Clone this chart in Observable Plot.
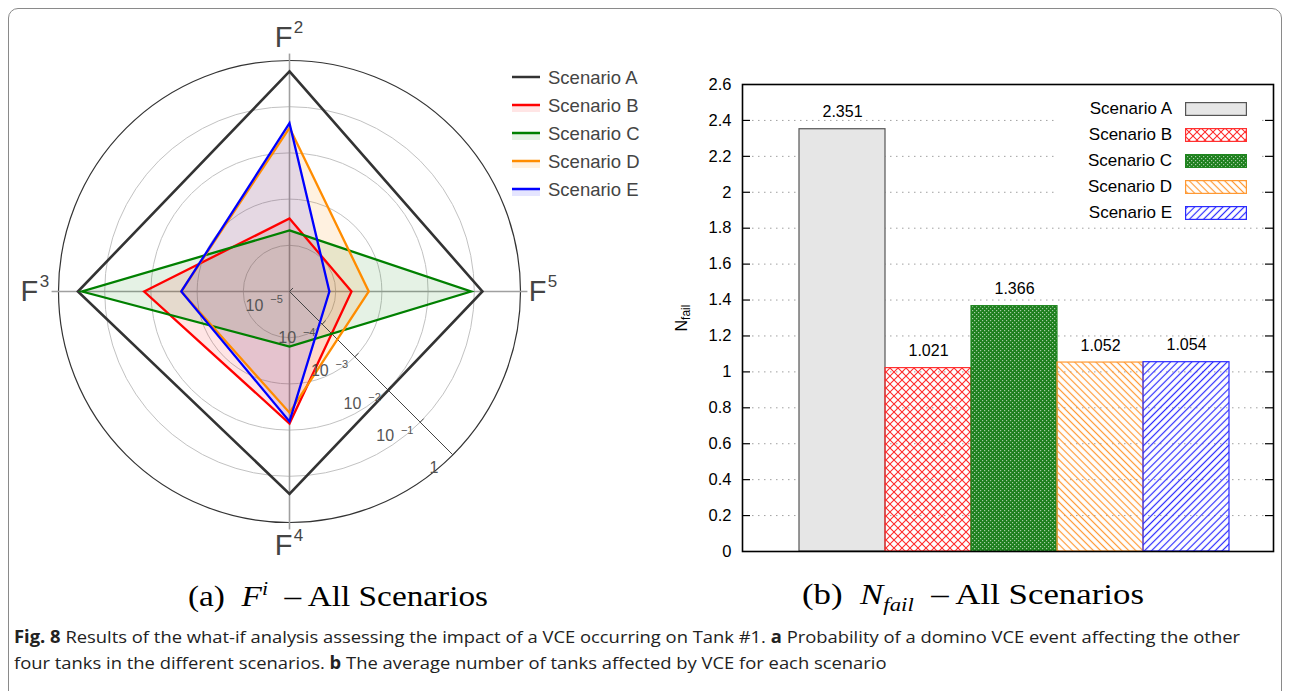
<!DOCTYPE html>
<html><head><meta charset="utf-8">
<script src="https://cdn.jsdelivr.net/npm/d3@7"></script>
<script src="https://cdn.jsdelivr.net/npm/@observablehq/plot@0.6"></script>
<style>
html,body{margin:0;padding:0;background:#fff}
body{width:1289px;height:691px;overflow:hidden;position:relative;font-family:"Liberation Sans",Arial,sans-serif}
#border{position:absolute;left:8px;top:8px;width:1274px;height:760px;border:1.5px solid #8a8a8a;border-radius:10px;box-sizing:border-box}
.abs{position:absolute}
#radar{left:0;top:0}
#bars{left:670px;top:60px}
#rleg{left:512px;top:64px;font-size:18.5px;color:#444}
#rleg .row{height:28px;display:flex;align-items:center;white-space:nowrap}
#rleg svg{margin-right:8px}
#bleg{left:1055px;top:96px;width:207px;height:131px;background:#fff;font-size:17px;color:#000}
#bleg .row{position:absolute;left:0;height:26px;width:207px}
#bleg .lab{position:absolute;left:0;width:117px;text-align:right;top:3px;white-space:nowrap}
#bleg svg{position:absolute;left:130px;top:6px}
#nlab{left:683px;top:318px;font-size:16px;transform:translate(-50%,-50%) rotate(-90deg);white-space:nowrap;color:#000}
#nlab sub{font-size:12px;vertical-align:-3px}
.sub{font-family:"Liberation Serif","DejaVu Serif",serif;font-size:29px;color:#000;white-space:nowrap;text-align:center;width:500px;transform-origin:50% 50%}
#capa{left:88px;top:578px}
#capb{left:723px;top:578px}
.sub i{font-style:italic}
#caption{left:14px;top:624px;font-family:"Open Sans","Noto Sans",sans-serif;font-size:17px;line-height:26px;color:#222;white-space:nowrap;transform-origin:0 0}
</style></head><body>
<svg width="0" height="0" style="position:absolute">
<defs>
<pattern id="hatchB" patternUnits="userSpaceOnUse" width="8" height="8"><path d="M0,0L8,8M8,0L0,8" stroke="#ff2a2a" stroke-width="1.1" fill="none"/></pattern>
<pattern id="hatchC" patternUnits="userSpaceOnUse" width="4" height="4"><rect width="4" height="4" fill="#1d7f1d"/><rect x="0" y="0" width="1.2" height="1.2" fill="#fff" opacity="0.6"/><rect x="2" y="2" width="1.2" height="1.2" fill="#fff" opacity="0.6"/></pattern>
<pattern id="hatchD" patternUnits="userSpaceOnUse" width="5" height="5" patternTransform="rotate(-45)"><line x1="2.5" y1="0" x2="2.5" y2="5" stroke="#ff9933" stroke-width="1.2"/></pattern>
<pattern id="hatchE" patternUnits="userSpaceOnUse" width="5" height="5" patternTransform="rotate(45)"><line x1="2.5" y1="0" x2="2.5" y2="5" stroke="#2b2bff" stroke-width="1.2"/></pattern>
</defs></svg>
<div id="border"></div>
<div id="radar" class="abs"></div>
<div id="rleg" class="abs"></div>
<div id="bars" class="abs"></div>
<div id="bleg" class="abs"></div>
<div id="nlab" class="abs">N<sub>fail</sub></div>
<div id="capa" class="abs sub"><span>(a)&nbsp; <i>F</i><sup style="font-size:19px"><i>i</i></sup> &nbsp;– All Scenarios</span></div>
<div id="capb" class="abs sub"><span>(b)&nbsp; <i>N</i><sub style="font-size:19px"><i>fail</i></sub> &nbsp;– All Scenarios</span></div>
<div id="caption" class="abs"><b>Fig. 8</b> Results of the what-if analysis assessing the impact of a VCE occurring on Tank #1. <b>a</b> Probability of a domino VCE event affecting the other<br>four tanks in the different scenarios. <b>b</b> The average number of tanks affected by VCE for each scenario</div>
<script>
// ---------- data ----------
const scenarios = ["Scenario A", "Scenario B", "Scenario C", "Scenario D", "Scenario E"];
const lineColors = ["#333333", "#ff0000", "#008000", "#ff8c00", "#0000ff"];
const areaOpacity = [0, 0.1, 0.1, 0.12, 0.1];
// radar axes, clockwise from the top: F2, F5, F4, F3
const fAxes = ["2", "5", "4", "3"];
const fAngles = [0, 90, 180, 270];
const probA = [0.58, 0.15, 0.24, 0.38];
const probB = [3.8e-4, 2.2e-4, 7.2e-3, 1.4e-2];
const probC = [2.1e-4, 8.5e-2, 1.55e-4, 0.31];
const probD = [3.5e-2, 5.2e-4, 4.2e-3, 2.2e-3];
const probE = [4.4e-2, 7.3e-5, 6.5e-3, 2.2e-3];
const probs = [probA, probB, probC, probD, probE];
const ringValues = [1e-5, 1e-4, 1e-3, 1e-2, 1e-1, 1];
const ringExponents = ["−5", "−4", "−3", "−2", "−1"];
// bar chart
const nFail = [2.351, 1.021, 1.366, 1.052, 1.054];
const nFailTicks = [0, 0.2, 0.4, 0.6, 0.8, 1, 1.2, 1.4, 1.6, 1.8, 2, 2.2, 2.4, 2.6];
const nFailLabels = ["0", "0.2", "0.4", "0.6", "0.8", "1", "1.2", "1.4", "1.6", "1.8", "2", "2.2", "2.4", "2.6"];
const barFills = ["#e6e6e6", "url(#hatchB)", "url(#hatchC)", "url(#hatchD)", "url(#hatchE)"];
const barStrokes = ["#555555", "#ff3030", "#1f861f", "#ff9933", "#2b2bff"];

// ---------- radar ----------
const R = 231, cx = 289, cy = 291, RW = 660, RH = 570;
const rad = d3.scaleLog().domain([1e-5, 1]).range([0, 1]);
const toRad = a => a * Math.PI / 180;
const polar = (r, a) => ({x: r * Math.sin(toRad(a)), y: r * Math.cos(toRad(a))});
const diag = v => polar(rad(v), 135);

const marks = [];
ringValues.forEach((v, i) => {
  const last = i === ringValues.length - 1;
  if (i === 0) return;
  marks.push(Plot.dot([v], {x: () => 0, y: () => 0, r: rad(v) * R, fill: "none",
    stroke: last ? "#333" : "#c2c2c2", strokeWidth: last ? 1.2 : 1}));
});
marks.push(Plot.link(fAngles, {x1: () => 0, y1: () => 0,
  x2: a => polar(1.03, a).x, y2: a => polar(1.03, a).y, stroke: "#a0a0a0", strokeWidth: 1.6}));
const polys = scenarios.map((s, k) => fAngles.map((a, i) => ({s, ...polar(rad(probs[k][i]), a)})));
polys.forEach((p, k) => {
  if (areaOpacity[k] > 0) marks.push(Plot.line(p, {x: "x", y: "y", curve: "linear-closed",
    stroke: "none", fill: lineColors[k], fillOpacity: areaOpacity[k]}));
});
marks.push(Plot.link([1], {x1: () => 0, y1: () => 0, x2: v => diag(v).x, y2: v => diag(v).y,
  stroke: "#444", strokeWidth: 1}));
const tk = 5 / R * Math.SQRT1_2;
marks.push(Plot.link(ringValues, {x1: v => diag(v).x, y1: v => diag(v).y,
  x2: v => diag(v).x + tk, y2: v => diag(v).y + tk, stroke: "#444", strokeWidth: 1}));
polys.forEach((p, k) => {
  marks.push(Plot.line(p, {x: "x", y: "y", curve: "linear-closed", stroke: lineColors[k],
    strokeWidth: k === 0 ? 2.6 : 2.3, strokeLinejoin: "miter", strokeMiterlimit: 10}));
});
const ringLab = ringValues.slice(0, 5);
marks.push(Plot.text(ringLab, {x: v => diag(v).x, y: v => diag(v).y, text: () => "10",
  dx: -35, dy: 14, fontSize: 16, fill: "#555"}));
marks.push(Plot.text(ringLab, {x: v => diag(v).x, y: v => diag(v).y, text: (v, i) => ringExponents[i],
  dx: -13, dy: 8, fontSize: 11, fill: "#555"}));
marks.push(Plot.text([1], {x: v => diag(v).x, y: v => diag(v).y, text: () => "1",
  dx: -19, dy: 13, fontSize: 16, fill: "#555"}));
marks.push(Plot.text(fAxes, {x: (d, i) => polar(1.1, fAngles[i]).x, y: (d, i) => polar(1.1, fAngles[i]).y,
  text: () => "F", dx: -6, fontSize: 29, fill: "#444"}));
marks.push(Plot.text(fAxes, {x: (d, i) => polar(1.1, fAngles[i]).x, y: (d, i) => polar(1.1, fAngles[i]).y,
  text: d => d, dx: 9, dy: -10, fontSize: 17, fill: "#444"}));

const radar = Plot.plot({
  width: RW, height: RH, margin: 0,
  style: {fontFamily: "Liberation Sans, Arial, sans-serif", background: "transparent", overflow: "visible"},
  x: {domain: [-cx / R, (RW - cx) / R], axis: null},
  y: {domain: [-(RH - cy) / R, cy / R], axis: null},
  marks
});
document.getElementById("radar").append(radar);

const rleg = document.getElementById("rleg");
scenarios.forEach((s, k) => {
  const row = document.createElement("div");
  row.className = "row";
  row.innerHTML = `<svg width="28" height="14"><rect x="0" y="7" width="28" height="6" fill="${lineColors[k]}" fill-opacity="${areaOpacity[k]}"/><line x1="0" x2="28" y1="6" y2="6" stroke="${lineColors[k]}" stroke-width="2.5"/></svg><span>${s}</span>`;
  rleg.append(row);
});

// ---------- bar chart ----------
const BW = 619, BH = 510;
const mL = 72, mR = 16, mT = 24, mB = 19;
const innerW = BW - mL - mR;
const bars = scenarios.map((s, i) => ({s, v: nFail[i]}));
const inner = nFailTicks.slice(1, -1);
const barMarks = [
  Plot.ruleY(inner, {stroke: "#a0a0a0", strokeWidth: 1, strokeDasharray: "1.5,4.5", insetLeft: 10, insetRight: 5}),
  ...bars.map((d, i) => Plot.barY([d], {x: "s", y: "v", fill: barFills[i], stroke: barStrokes[i], strokeWidth: 1.2})),
  Plot.ruleY(inner, {stroke: "#000", strokeWidth: 1.2, insetRight: innerW - 8}),
  Plot.ruleY(inner, {stroke: "#000", strokeWidth: 1.2, insetLeft: innerW - 8}),
  Plot.frame({stroke: "#000", strokeWidth: 1.6}),
  Plot.axisY(nFailTicks, {tickSize: 0, tickPadding: 11, fontSize: 16.5, fill: "#000",
    tickFormat: (d, i) => nFailLabels[i], label: null}),
  Plot.text(bars, {x: "s", y: "v", text: d => d.v.toFixed(3), dy: -17, fontSize: 16, fill: "#000"})
];
const barChart = Plot.plot({
  width: BW, height: BH, marginLeft: mL, marginRight: mR, marginTop: mT, marginBottom: mB,
  style: {fontFamily: "Liberation Sans, Arial, sans-serif", background: "transparent", overflow: "visible"},
  x: {type: "band", domain: scenarios, paddingInner: 0, paddingOuter: 0.587, align: 0.564, axis: null},
  y: {domain: [0, 2.6], axis: null},
  marks: barMarks
});
document.getElementById("bars").append(barChart);

const bleg = document.getElementById("bleg");
scenarios.forEach((s, k) => {
  const row = document.createElement("div");
  row.className = "row";
  row.style.top = (k * 26) + "px";
  row.innerHTML = `<span class="lab">${s}</span><svg width="62" height="14"><rect x="0.6" y="0.6" width="60.8" height="12.8" fill="${barFills[k]}" stroke="${barStrokes[k]}" stroke-width="1.2"/></svg>`;
  bleg.append(row);
});

// ---------- fit caption text widths to the figure ----------
const fitX = (id, target) => {
  const el = document.getElementById(id);
  const span = el.querySelector("span");
  const w = span.getBoundingClientRect().width;
  el.style.transform = `scaleX(${target / w})`;
};
fitX("capa", 300);
fitX("capb", 342);
const cap = document.getElementById("caption");
cap.style.transform = `scaleX(${1226 / cap.getBoundingClientRect().width})`;
</script>
</body></html>
